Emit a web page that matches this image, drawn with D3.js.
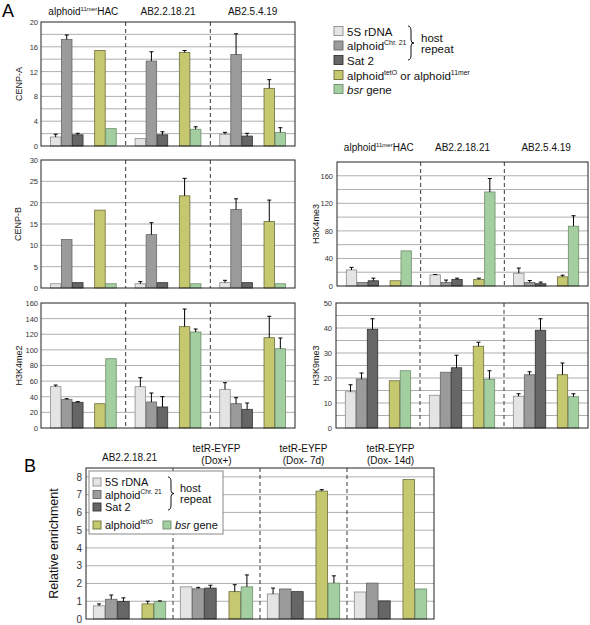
<!DOCTYPE html>
<html><head><meta charset="utf-8">
<script src="https://cdn.jsdelivr.net/npm/d3@7"></script>
<style>body{margin:0;background:#fff} text{font-family:Arial,"Liberation Sans",Helvetica,sans-serif}</style>
</head><body><svg id="c" width="590" height="625"></svg>
<script>
// ---------- data ----------
const slotKeys = ["s5", "chr21", "sat2", "gap", "tet", "bsr"];
const seriesKeys = ["s5", "chr21", "sat2", "tet", "bsr"];
const groupsA = ["alphoid11mer HAC", "AB2.2.18.21", "AB2.5.4.19"];
const groupsB = ["AB2.2.18.21", "tetR-EYFP (Dox+)", "tetR-EYFP (Dox- 7d)", "tetR-EYFP (Dox- 14d)"];

const cenpA     = [[1.45, 17.2, 1.8, 15.4, 2.8], [1.2, 13.7, 1.8, 15.1, 2.7], [1.9, 14.75, 1.6, 9.3, 2.2]];
const cenpAErr  = [[1.9, 17.9, 2.05, null, null], [null, 15.2, 2.3, 15.4, 3.1], [2.2, 18.1, 2.05, 10.7, 2.95]];
const cenpB     = [[1.0, 11.35, 1.25, 18.25, 1.0], [1.0, 12.5, 1.25, 21.6, 1.0], [1.25, 18.4, 1.25, 15.6, 1.0]];
const cenpBErr  = [[null, null, null, null, null], [1.5, 15.3, null, 25.7, null], [1.8, 20.9, null, 20.6, null]];
const h3k4me2   = [[52.9, 36.7, 32.9, 31.1, 88.7], [52.9, 33.3, 26.9, 129.7, 122.9], [49.5, 31.1, 23.9, 115.6, 101.5]];
const h3k4me2Err= [[55, 37.5, 33.7, null, null], [64.4, 44.8, 40.1, 152.3, 126.7], [58, 38.8, 32, 143, 115.2]];
const h3k4me3   = [[23.3, 5.2, 7.6, 7.6, 51], [16.2, 5.2, 9.5, 9.5, 136.5], [18.6, 5.2, 3.3, 13.3, 86.8]];
const h3k4me3Err= [[27, null, 11.4, null, null], [16.7, 8.6, 11.4, 11.4, 156], [26, 8, 5.7, 15.7, 102]];
const h3k9me3   = [[14.5, 19.6, 39.5, 18.9, 22.9], [13.1, 22.3, 24.1, 32.7, 19.5], [12.7, 21.3, 39.1, 21.3, 12.5]];
const h3k9me3Err= [[17.3, 22, 43.7, null, null], [null, null, 29.1, 34.3, 22.9], [13.7, 22.5, 43.7, 26, 13.7]];
const relEnr    = [[0.74, 1.11, 0.98, 0.85, 0.98], [1.81, 1.70, 1.74, 1.54, 1.81], [1.41, 1.69, 1.54, 7.2, 2.02], [1.52, 2.02, 1.02, 7.85, 1.69]];
const relEnrErr = [[0.85, 1.35, 1.19, 1.0, 1.02], [null, 1.78, 1.9, 1.93, 2.48], [1.74, null, null, 7.28, 2.43], [null, null, null, null, null]];

const ticksCenpA = [0, 4, 8, 12, 16, 20];
const ticksCenpB = [0, 5, 10, 15, 20, 25, 30];
const ticksK4me2 = [0, 20, 40, 60, 80, 100, 120, 140, 160];
const ticksK4me3 = [0, 40, 80, 120, 160];
const ticksK9me3 = [0, 10, 20, 30, 40, 50];
const ticksB     = [0, 1, 2, 3, 4, 5, 6, 7, 8];

// ---------- styles ----------
const fills   = {s5: "#e4e4e4", chr21: "#9b9b9b", sat2: "#666666", tet: "#c5c86e", bsr: "#a3cfa0"};
const strokes = {s5: "#8c8c8c", chr21: "#666", sat2: "#333", tet: "#6e6e3c", bsr: "#6f8c6d"};

const svg = d3.select("#c");

function rich(sel, parts, fs) {
  let raised = false;
  parts.forEach(p => {
    const t = sel.append("tspan").text(p.t);
    if (p.sup) {
      t.attr("font-size", fs * 0.6).attr("dy", raised ? 0 : -fs * 0.42);
      raised = true;
    } else {
      if (raised) { t.attr("dy", fs * 0.42); raised = false; }
      if (p.it) t.attr("font-style", "italic");
    }
  });
}

function panel(p) {
  const g = svg.append("g");
  const x = d3.scaleBand().domain(p.groups).range([p.x0, p.x1]);
  const xi = d3.scaleBand().domain(slotKeys).range([0, x.bandwidth()]).paddingInner(0.05).paddingOuter(p.po);
  const y = d3.scaleLinear().domain([0, p.max]).range([p.y1, p.y0]);

  g.selectAll("line.grid").data(d3.range(p.grid, p.max - 1e-9, p.grid)).join("line")
    .attr("x1", p.x0).attr("x2", p.x1)
    .attr("y1", d => y(d)).attr("y2", d => y(d))
    .attr("stroke", "#9a9a9a").attr("stroke-width", 0.8);

  g.selectAll("line.sep").data(p.groups.slice(1)).join("line")
    .attr("x1", d => x(d)).attr("x2", d => x(d))
    .attr("y1", p.y0).attr("y2", p.y1)
    .attr("stroke", "#222").attr("stroke-width", 0.9).attr("stroke-dasharray", "4,3");

  if (p.before) p.before(g, x, y);

  const bars = [];
  p.values.forEach((row, gi) => row.forEach((v, si) => {
    bars.push({g: p.groups[gi], k: seriesKeys[si], v, e: p.errs[gi][si]});
  }));
  g.selectAll("rect.bar").data(bars).join("rect")
    .attr("x", d => x(d.g) + xi(d.k))
    .attr("width", xi.bandwidth())
    .attr("y", d => y(d.v))
    .attr("height", d => y(0) - y(d.v))
    .attr("fill", d => fills[d.k]).attr("stroke", d => strokes[d.k]).attr("stroke-width", 0.8);

  const eb = bars.filter(d => d.e != null);
  const cx = d => x(d.g) + xi(d.k) + xi.bandwidth() / 2;
  g.selectAll("line.ev").data(eb).join("line")
    .attr("x1", cx).attr("x2", cx).attr("y1", d => y(d.v)).attr("y2", d => y(d.e))
    .attr("stroke", "#000").attr("stroke-width", 1);
  g.selectAll("line.ec").data(eb).join("line")
    .attr("x1", d => cx(d) - 2).attr("x2", d => cx(d) + 2).attr("y1", d => y(d.e)).attr("y2", d => y(d.e))
    .attr("stroke", "#000").attr("stroke-width", 1);

  g.append("rect").attr("x", p.x0).attr("y", p.y0).attr("width", p.x1 - p.x0).attr("height", p.y1 - p.y0)
    .attr("fill", "none").attr("stroke", "#222").attr("stroke-width", 1);

  const ax = g.append("g").attr("transform", `translate(${p.x0},0)`)
    .call(d3.axisLeft(y).tickValues(p.ticks).tickSize(0).tickPadding(p.tp));
  ax.select(".domain").remove();
  ax.selectAll("text").attr("font-size", p.tfs).attr("fill", "#333")
    .style("font-family", 'Arial,"Liberation Sans",sans-serif');

  g.append("text").attr("transform", `translate(${p.lx},${(p.y0 + p.y1) / 2}) rotate(-90)`)
    .attr("text-anchor", "middle").attr("font-size", p.lfs).attr("fill", "#111").text(p.label);

  return {x, y};
}

function titlesA(x, yb) {
  groupsA.forEach((gname, i) => {
    const t = svg.append("text").attr("x", x(gname) + x.bandwidth() / 2).attr("y", yb)
      .attr("text-anchor", "middle").attr("font-size", 10).attr("fill", "#111");
    if (i === 0) rich(t, [{t: "alphoid"}, {t: "11mer", sup: true}, {t: "HAC"}], 10);
    else t.text(gname);
  });
}

// ---------- panels A ----------
const pA = panel({x0: 41, x1: 295, y0: 22, y1: 146, max: 20, grid: 2, ticks: ticksCenpA, groups: groupsA,
  values: cenpA, errs: cenpAErr, po: 0.85, tp: 3, tfs: 7.5, label: "CENP-A", lx: 22, lfs: 9});
titlesA(pA.x, 15);

panel({x0: 41, x1: 295, y0: 160, y1: 288, max: 30, grid: 5, ticks: ticksCenpB, groups: groupsA,
  values: cenpB, errs: cenpBErr, po: 0.85, tp: 3, tfs: 7.5, label: "CENP-B", lx: 21, lfs: 9});

panel({x0: 41, x1: 295, y0: 303, y1: 428, max: 160, grid: 20, ticks: ticksK4me2, groups: groupsA,
  values: h3k4me2, errs: h3k4me2Err, po: 0.85, tp: 3, tfs: 7.5, label: "H3K4me2", lx: 22, lfs: 9});

const pR = panel({x0: 337, x1: 588, y0: 162, y1: 286, max: 180, grid: 20, ticks: ticksK4me3, groups: groupsA,
  values: h3k4me3, errs: h3k4me3Err, po: 0.85, tp: 4, tfs: 7.5, label: "H3K4me3", lx: 319, lfs: 9});
titlesA(pR.x, 151);

panel({x0: 336, x1: 588, y0: 303, y1: 428, max: 50, grid: 5, ticks: ticksK9me3, groups: groupsA,
  values: h3k9me3, errs: h3k9me3Err, po: 0.85, tp: 4, tfs: 7.5, label: "H3K9me3", lx: 319, lfs: 9});

svg.append("text").attr("x", 2).attr("y", 17).attr("font-size", 18).text("A");
svg.append("text").attr("x", 24).attr("y", 472).attr("font-size", 18).text("B");

function brace(x, y0, y1, w) {
  const m = (y0 + y1) / 2;
  return `M${x},${y0} Q${x + w},${y0} ${x + w},${y0 + 5} L${x + w},${m - 3} Q${x + w},${m} ${x + 2 * w},${m} ` +
         `Q${x + w},${m} ${x + w},${m + 3} L${x + w},${y1 - 5} Q${x + w},${y1} ${x},${y1}`;
}

// legend A
const legA = svg.append("g");
const legAItems = [
  [{t: "5S rDNA"}],
  [{t: "alphoid"}, {t: "Chr. 21", sup: true}],
  [{t: "Sat 2"}],
  [{t: "alphoid"}, {t: "tetO", sup: true}, {t: " or alphoid"}, {t: "11mer", sup: true}],
  [{t: "bsr", it: true}, {t: " gene"}]
];
const legARows = [31, 45.5, 60, 75, 89];
seriesKeys.forEach((k, i) => {
  legA.append("rect").attr("x", 334).attr("y", legARows[i] - 4.5).attr("width", 9).attr("height", 9)
    .attr("fill", fills[k]).attr("stroke", strokes[k]).attr("stroke-width", 0.9);
  const t = legA.append("text").attr("x", 347).attr("y", legARows[i] + 4.5).attr("font-size", 11.5).attr("fill", "#111");
  rich(t, legAItems[i], 11.5);
});
legA.append("path").attr("d", brace(408, 26, 60, 3)).attr("fill", "none").attr("stroke", "#111").attr("stroke-width", 1);
legA.append("text").attr("x", 421).attr("y", 42).attr("font-size", 11.5).attr("fill", "#111").text("host");
legA.append("text").attr("x", 421).attr("y", 53).attr("font-size", 11.5).attr("fill", "#111").text("repeat");

// ---------- panel B ----------
const pB = panel({x0: 86, x1: 434, y0: 468, y1: 619, max: 8.5, grid: 1, ticks: ticksB, groups: groupsB,
  values: relEnr, errs: relEnrErr, po: 0.6, tp: 4, tfs: 10, label: "Relative enrichment", lx: 58, lfs: 12.5,
  before: (g) => {
    g.append("rect").attr("x", 89).attr("y", 471).attr("width", 134).attr("height", 63)
      .attr("fill", "#fff").attr("stroke", "#888").attr("stroke-width", 1);
    const items = [
      [{t: "5S rDNA"}],
      [{t: "alphoid"}, {t: "Chr. 21", sup: true}],
      [{t: "Sat 2"}]
    ];
    const rows = [482, 494.5, 507];
    ["s5", "chr21", "sat2"].forEach((k, i) => {
      g.append("rect").attr("x", 93).attr("y", rows[i] - 4).attr("width", 8).attr("height", 8)
        .attr("fill", fills[k]).attr("stroke", strokes[k]).attr("stroke-width", 0.9);
      const t = g.append("text").attr("x", 105).attr("y", rows[i] + 4).attr("font-size", 11).attr("fill", "#111");
      rich(t, items[i], 11);
    });
    g.append("rect").attr("x", 93).attr("y", 521).attr("width", 8).attr("height", 8)
      .attr("fill", fills.tet).attr("stroke", strokes.tet).attr("stroke-width", 0.9);
    const t4 = g.append("text").attr("x", 105).attr("y", 529).attr("font-size", 11).attr("fill", "#111");
    rich(t4, [{t: "alphoid"}, {t: "tetO", sup: true}], 11);
    g.append("rect").attr("x", 163).attr("y", 521).attr("width", 8).attr("height", 8)
      .attr("fill", fills.bsr).attr("stroke", strokes.bsr).attr("stroke-width", 0.9);
    const t5 = g.append("text").attr("x", 175).attr("y", 529).attr("font-size", 11).attr("fill", "#111");
    rich(t5, [{t: "bsr", it: true}, {t: " gene"}], 11);
    g.append("path").attr("d", brace(168, 477, 510, 3)).attr("fill", "none").attr("stroke", "#111").attr("stroke-width", 1);
    g.append("text").attr("x", 180).attr("y", 492).attr("font-size", 11).attr("fill", "#111").text("host");
    g.append("text").attr("x", 180).attr("y", 503).attr("font-size", 11).attr("fill", "#111").text("repeat");
  }
});

groupsB.forEach((gname, i) => {
  const cx = pB.x(gname) + pB.x.bandwidth() / 2;
  if (i === 0) {
    svg.append("text").attr("x", cx).attr("y", 461).attr("text-anchor", "middle").attr("font-size", 10).attr("fill", "#111").text(gname);
  } else {
    const sp = gname.indexOf(" ");
    svg.append("text").attr("x", cx).attr("y", 452).attr("text-anchor", "middle").attr("font-size", 10).attr("fill", "#111").text(gname.slice(0, sp));
    svg.append("text").attr("x", cx).attr("y", 464).attr("text-anchor", "middle").attr("font-size", 10).attr("fill", "#111").text(gname.slice(sp + 1));
  }
});
</script></body></html>
